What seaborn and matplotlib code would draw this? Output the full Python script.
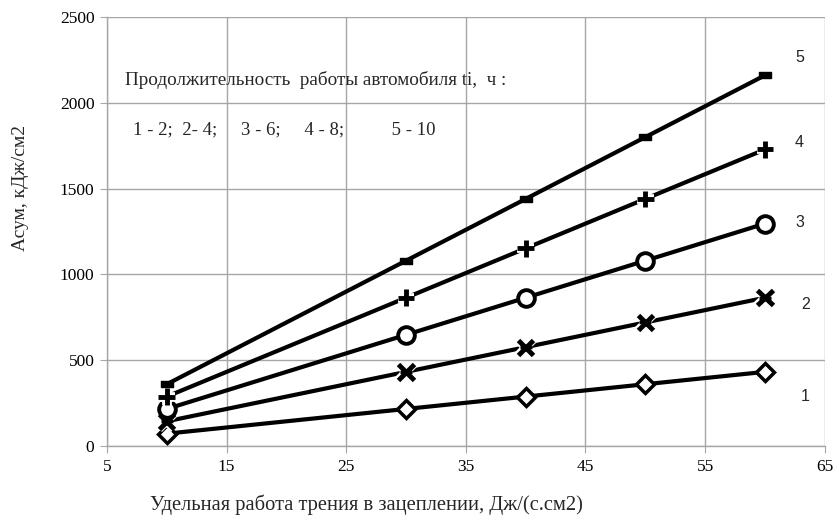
import numpy as np
import pandas as pd
import matplotlib
matplotlib.use("Agg")
import matplotlib.pyplot as plt
import seaborn as sns
import matplotlib.patheffects as pe

x_vals = [10, 30, 40, 50, 60]
s1 = [72, 216, 288, 360, 432]
s2 = [144, 432, 576, 720, 864]
s3 = [216, 648, 864, 1080, 1296]
s4 = [288, 864, 1152, 1440, 1728]
s5 = [360, 1080, 1440, 1800, 2160]
series_names = ["1", "2", "3", "4", "5"]
x_ticks = [5, 15, 25, 35, 45, 55, 65]
y_ticks = [0, 500, 1000, 1500, 2000, 2500]

rows = []
for name, vals in zip(series_names, [s1, s2, s3, s4, s5]):
    for xv, yv in zip(x_vals, vals):
        rows.append({"x": xv, "y": yv, "series": name})
df = pd.DataFrame(rows)

sns.set_style("white")
plt.rcParams["font.family"] = ["Liberation Serif", "DejaVu Serif"]

fig = plt.figure(figsize=(8.39, 5.20), dpi=100)
ax = fig.add_axes([0.1275, 0.1423, 0.8555, 0.8250])

for name in series_names:
    sub = df[df.series == name]
    sns.lineplot(data=sub, x="x", y="y", ax=ax, color="black", lw=3, legend=False)

dash_marker = [(-1, -0.55), (1, -0.55), (1, 0.55), (-1, 0.55), (-1, -0.55)]
for name in series_names:
    sub = df[df.series == name]
    if name == "1":
        ax.plot(sub.x, sub.y, ls="none", marker="D", ms=9, mfc="white",
                mec="black", mew=2.5, zorder=5)
    elif name == "3":
        ax.plot(sub.x, sub.y, ls="none", marker="o", ms=12, mfc="white",
                mec="black", mew=2.8, zorder=5)
    elif name == "2":
        ax.plot(sub.x, sub.y, ls="none", marker="x", ms=11, mec="black", mew=3.5, zorder=5,
                path_effects=[pe.Stroke(linewidth=6, foreground="white"), pe.Normal()])
        ax.plot(sub.x, sub.y, ls="none", marker="_", ms=9, mec="black", mew=2.5, zorder=6)
    elif name == "4":
        ax.plot(sub.x, sub.y, ls="none", marker="+", ms=12, mec="black", mew=3.5, zorder=5,
                path_effects=[pe.Stroke(linewidth=7, foreground="white"), pe.Normal()])
    else:
        ax.plot(sub.x, sub.y, ls="none", marker=dash_marker, ms=9, mfc="black",
                mec="black", mew=1, zorder=5)

ax.set_xlim(5, 65)
ax.set_ylim(0, 2500)
ax.set_xticks(x_ticks)
ax.set_yticks(y_ticks)
ax.grid(True, color="#a6a6a6", lw=1)
ax.set_axisbelow(True)
for s in ["top", "right"]:
    ax.spines[s].set_visible(False)
for s in ["left", "bottom"]:
    ax.spines[s].set_color("#a6a6a6")
    ax.spines[s].set_linewidth(1)
ax.tick_params(axis="both", direction="out", length=5, color="#a6a6a6", labelsize=12.5,
               bottom=True, left=True, pad=4)
for lbl in ax.get_xticklabels() + ax.get_yticklabels():
    lbl.set_color("black")

ax.set_xlabel("Удельная работа трения в зацеплении, Дж/(с.см2)", fontsize=14.8)
ax.xaxis.set_label_coords(0.361, -0.114)
ax.set_ylabel("Асум, кДж/см2", fontsize=14)
ax.yaxis.set_label_coords(-0.108, 0.601)

ax.text(6.5, 2133, "Продолжительность  работы автомобиля ti,  ч :", fontsize=13.8,
        va="center", ha="left")
ax.text(7.2, 1841, "1 - 2;  2- 4;     3 - 6;     4 - 8;          5 - 10", fontsize=13.5,
        va="center", ha="left")

label_pos = {"5": (62.9, 2265), "4": (62.9, 1768), "3": (62.9, 1305),
             "2": (63.4, 822), "1": (63.4, 290)}
for name, (lx, ly) in label_pos.items():
    ax.text(lx, ly, name, fontsize=11.5, family=["Liberation Sans", "DejaVu Sans"],
            va="center", ha="center")

fig.savefig("out.png", dpi=100)
